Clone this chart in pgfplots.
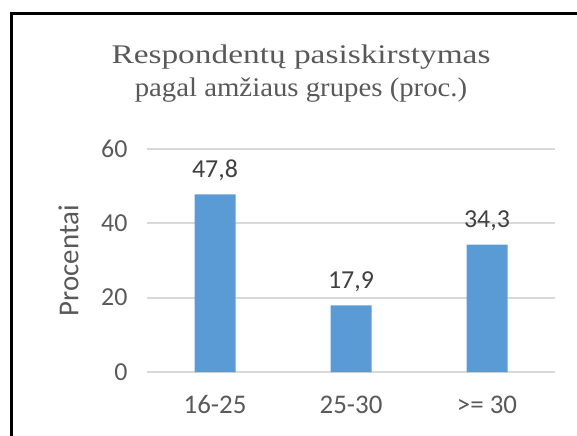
\documentclass[border=0pt]{standalone}
\usepackage{pgfplots}
\pgfplotsset{compat=1.18}
\usepackage{fontspec}
\setmainfont{Carlito}
\newfontfamily\titlefont{Liberation Serif}
\definecolor{barblue}{HTML}{5B9BD5}
\definecolor{txtgray}{HTML}{595959}
\definecolor{lblgray}{HTML}{404040}
\definecolor{gridgray}{HTML}{D9D9D9}
\begin{document}
\begin{tikzpicture}[x=1bp,y=1bp]
% chart frame (runs off the right and bottom edge, as in the screenshot)
\draw[line width=3bp] (11.5,-13.5) rectangle (640,-480);
% title
\node[anchor=base, text=txtgray, font=\titlefont\fontsize{27}{32}\selectfont] at (301,-64)
  {\scalebox{1.24}[1]{Respondentų pasiskirstymas}};
\node[anchor=base, text=txtgray, font=\titlefont\fontsize{27}{32}\selectfont] at (301,-97)
  {\scalebox{1.07}[1]{pagal amžiaus grupes (proc.)}};
\begin{axis}[
    at={(147bp,-372bp)}, anchor=south west,
    scale only axis, width=408bp, height=223bp,
    xmin=-0.5, xmax=2.5, ymin=0, ymax=60,
    ybar, bar width=41bp,
    xtick=data, xticklabels={16-25,25-30,>= 30},
    ytick={0,20,40,60},
    axis line style={draw=none}, tick style={draw=none},
    ymajorgrids, grid style={gridgray, line width=1.8bp},
    /pgf/number format/assume math mode=true,
    ticklabel style={text=txtgray},
    yticklabel style={font=\fontsize{26}{30}\selectfont, xshift=-16bp},
    xticklabel style={font=\fontsize{27}{31}\selectfont, yshift=-16bp},
    ylabel={Procentai},
    every axis y label/.style={at={(axis description cs:-0.192,0.5)}, rotate=90, anchor=center,
      font=\fontsize{29}{33}\selectfont, text=txtgray},
    nodes near coords,
    every node near coord/.append style={font=\fontsize{26}{30}\selectfont, text=lblgray, yshift=10bp,
      /pgf/number format/.cd, fixed, fixed zerofill, precision=1, use comma},
    ]
\addplot[fill=barblue, draw=none] coordinates {(0,47.8) (1,17.9) (2,34.3)};
\end{axis}
\pgfresetboundingbox
\path[use as bounding box] (0,0) rectangle (577,-436);
\end{tikzpicture}
\end{document}
